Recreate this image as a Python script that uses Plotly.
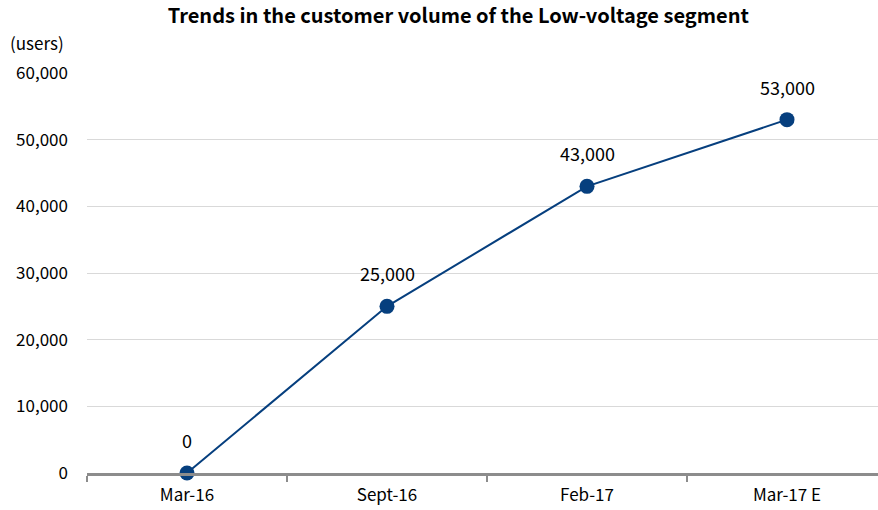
import plotly.graph_objects as go

categories = ["Mar-16", "Sept-16", "Feb-17", "Mar-17 E"]
customers = [0, 25000, 43000, 53000]
labels = ["0", "25,000", "43,000", "53,000"]
y_ticks = [0, 10000, 20000, 30000, 40000, 50000, 60000]
y_tick_text = ["0", "10,000", "20,000", "30,000", "40,000", "50,000", "60,000"]

font = "Noto Sans CJK JP"
blue = "#063f7e"

fig = go.Figure()
fig.add_trace(go.Scatter(
    x=categories, y=customers,
    mode="lines+markers",
    line=dict(color=blue, width=2),
    marker=dict(color=blue, size=15),
    cliponaxis=False, hoverinfo="skip",
))

annotations = [dict(text=t, x=c, y=v, xref="x", yref="y", yshift=33,
                    showarrow=False, xanchor="center", yanchor="middle",
                    font=dict(family=font, size=18, color="#000"))
               for c, v, t in zip(categories, customers, labels)]
annotations.append(dict(text="(users)", x=-79/791, y=(473-42)/400, xref="paper", yref="paper",
                        showarrow=False, xanchor="left", yanchor="middle",
                        font=dict(family=font, size=17, color="#000")))

fig.update_layout(
    width=878, height=510,
    margin=dict(l=87, r=0, t=73, b=37),
    paper_bgcolor="white", plot_bgcolor="white",
    showlegend=False,
    font=dict(family=font, size=17, color="#000"),
    title=dict(text="<b>Trends in the customer volume of the Low-voltage segment</b>",
               x=0.522, xanchor="center", y=0.968, yanchor="middle",
               font=dict(family=font, size=20, color="#000")),
    xaxis=dict(
        type="category",
        range=[-0.5, 3.455],
        showgrid=False, zeroline=False,
        showline=True, linecolor="#8c8c8c", linewidth=3,
        ticks="outside", ticklen=6, tickcolor="#8c8c8c", tickwidth=2,
        tickson="boundaries",
        tickfont=dict(family=font, size=17),
        ticklabelstandoff=5,
        fixedrange=True,
    ),
    yaxis=dict(
        range=[0, 60000],
        tickmode="array", tickvals=y_ticks, ticktext=y_tick_text,
        showgrid=True, gridcolor="#d9d9d9", gridwidth=1,
        zeroline=False, showline=False, ticks="",
        tickfont=dict(family=font, size=17),
        ticklabelstandoff=18,
    ),
    annotations=annotations,
)

fig.write_html("out.html")
